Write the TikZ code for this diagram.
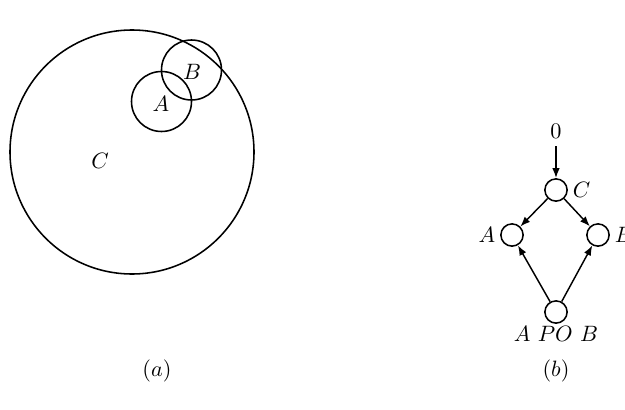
\documentclass[tikz,border=0pt]{standalone}
\usetikzlibrary{arrows.meta}
\begin{document}
\begin{tikzpicture}[x=0.45pt,y=-0.45pt,
  region/.style={draw,circle,line width=0.7pt,inner sep=0pt},
  vtx/.style={draw,circle,line width=0.7pt,minimum size=10pt,inner sep=0pt},
  arr/.style={-{Latex[length=4.5pt,width=3.4pt]},line width=0.65pt}]
\useasboundingbox (0,0) rectangle (625,410);
% (a)
\node[region,minimum size={2*122*0.45pt}] (Cc) at (132,152) {};
\node[region,minimum size={2*30*0.45pt}] (Ac) at (161.5,101.5) {};
\node[region,minimum size={2*30*0.45pt}] (Bc) at (191.5,70) {};
\node (la) at (161,104) {$A$};
\node (lb) at (192,72) {$B$};
\node (lc) at (100,161) {$C$};
\node (capa) at (157,371) {$(a)$};
% (b)
\node (zero) at (556,131) {$0$};
\node[vtx,label={[inner sep=2pt]right:$C$}] (c) at (556,190) {};
\node[vtx,label={[inner sep=2pt]left:$A$}] (a) at (512,235) {};
\node[vtx,label={[inner sep=2pt]right:$B$}] (b) at (598,235) {};
\node[vtx,label={[inner sep=1pt]below:$A\ PO\ B$}] (p) at (556,312) {};
\draw[arr] (zero) -- (c);
\draw[arr] (c) -- (a);
\draw[arr] (c) -- (b);
\draw[arr] (p) -- (a);
\draw[arr] (p) -- (b);
\node (capb) at (556,371) {$(b)$};
\end{tikzpicture}
\end{document}
